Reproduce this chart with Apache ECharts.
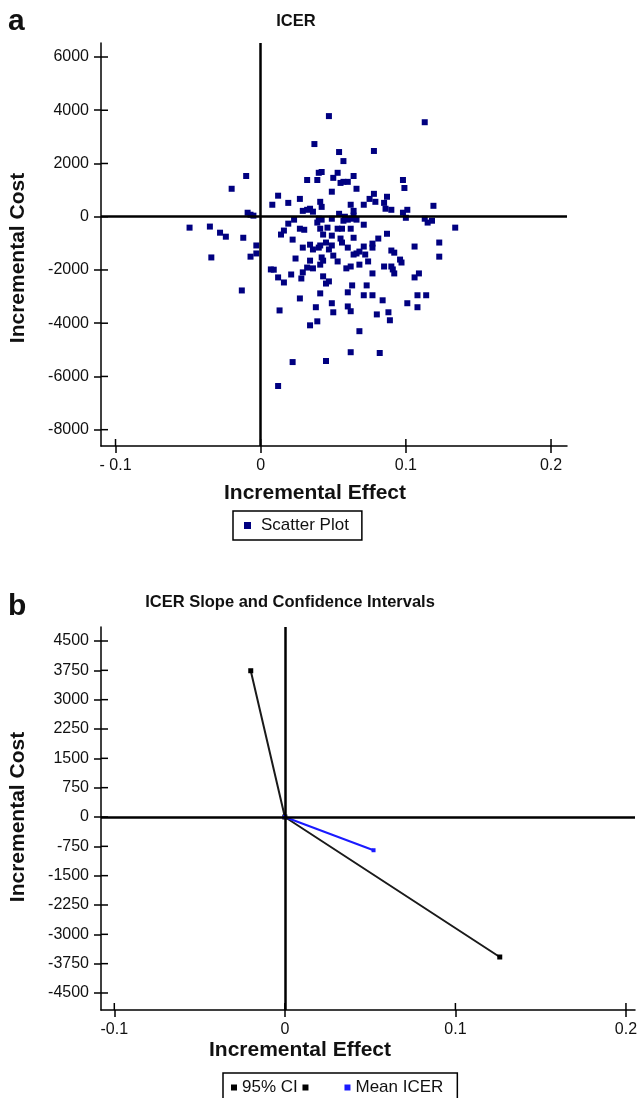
<!DOCTYPE html>
<html>
<head>
<meta charset="utf-8">
<title>ICER</title>
<script src="https://cdn.jsdelivr.net/npm/echarts@6/dist/echarts.min.js"></script>
<style>
  html, body { margin: 0; padding: 0; background: #fff; }
  #chart { width: 640px; height: 1098px; }
</style>
</head>
<body>
<div id="chart"></div>
<script>
// panel a: bootstrap replicates [incremental effect, incremental cost]
const bootstrapPoints = [
  [-0.010, 1530], [-0.020, 1050], [-0.009, 150], [-0.007, 75], [-0.005, 40],
  [-0.049, -410], [-0.035, -370], [-0.028, -600], [-0.024, -750], [-0.012, -790],
  [-0.003, -1080], [-0.034, -1530], [-0.007, -1500], [-0.003, -1380], [-0.013, -2770],
  [0.047, 3780], [0.037, 2730], [0.054, 2430], [0.057, 2090], [0.040, 1650],
  [0.042, 1680], [0.053, 1650], [0.032, 1380], [0.039, 1380], [0.050, 1460],
  [0.055, 1270], [0.057, 1310], [0.060, 1310], [0.064, 1530], [0.066, 1050],
  [0.049, 940], [0.012, 790], [0.027, 670], [0.019, 520], [0.008, 450],
  [0.041, 560], [0.042, 370], [0.029, 220], [0.032, 260], [0.034, 300],
  [0.036, 190], [0.062, 450], [0.071, 450], [0.075, 670], [0.054, 110],
  [0.064, 220], [0.058, 0], [0.064, 40], [0.023, -110], [0.040, -75],
  [0.042, -110], [0.039, -220], [0.049, -75], [0.057, -150], [0.060, -110],
  [0.063, -75], [0.066, -110], [0.019, -260], [0.071, -300], [0.016, -520],
  [0.014, -670], [0.027, -450], [0.030, -490], [0.041, -450], [0.046, -410],
  [0.053, -450], [0.056, -450], [0.062, -450], [0.043, -670], [0.049, -710],
  [0.022, -860], [0.055, -820], [0.064, -790], [0.029, -1160], [0.034, -1050],
  [0.036, -1230], [0.040, -1160], [0.041, -1080], [0.045, -970], [0.047, -1230],
  [0.049, -1080], [0.056, -970], [0.060, -1160], [0.066, -1380], [0.068, -1310],
  [0.064, -1420], [0.071, -1120], [0.072, -1420], [0.024, -1570], [0.034, -1650],
  [0.042, -1530], [0.043, -1650], [0.050, -1460], [0.053, -1680], [0.007, -1980],
  [0.009, -1990], [0.032, -1910], [0.036, -1940], [0.041, -1800], [0.059, -1940],
  [0.062, -1870], [0.068, -1800], [0.074, -1680], [0.012, -2280], [0.016, -2470],
  [0.021, -2170], [0.029, -2090], [0.028, -2320], [0.043, -2240], [0.045, -2510],
  [0.047, -2430], [0.063, -2580], [0.073, -2580], [0.041, -2880], [0.060, -2840],
  [0.071, -2950], [0.027, -3070], [0.038, -3400], [0.049, -3250], [0.050, -3590],
  [0.060, -3370], [0.062, -3550], [0.013, -3520], [0.034, -4080], [0.039, -3930],
  [0.068, -4300], [0.062, -5090], [0.022, -5460], [0.045, -5420], [0.012, -6360],
  [0.113, 3550], [0.078, 2470], [0.098, 1380], [0.099, 1080], [0.078, 860],
  [0.079, 560], [0.087, 750], [0.085, 520], [0.086, 300], [0.090, 260],
  [0.098, 150], [0.101, 260], [0.100, -40], [0.119, 410], [0.113, -75],
  [0.115, -220], [0.118, -150], [0.134, -410], [0.087, -640], [0.081, -820],
  [0.077, -1010], [0.077, -1160], [0.106, -1120], [0.123, -970], [0.123, -1500],
  [0.090, -1270], [0.092, -1350], [0.096, -1610], [0.097, -1720], [0.085, -1870],
  [0.090, -1870], [0.091, -1980], [0.092, -2130], [0.077, -2130], [0.109, -2130],
  [0.106, -2280], [0.077, -2950], [0.084, -3140], [0.108, -2950], [0.114, -2950],
  [0.101, -3250], [0.108, -3400], [0.080, -3670], [0.088, -3590], [0.089, -3890],
  [0.082, -5120]
];

// panel b: confidence interval rays and mean ICER
const ciEffect = [-0.020, 0, 0.126];
const ciCost = [3740, 0, -3580];
const meanEffect = [0, 0.052];
const meanCost = [0, -850];

// tick labels
const xTicksA = [-0.1, 0, 0.1, 0.2];
const xTickLabelsA = ['- 0.1', '0', '0.1', '0.2'];
const yTicksA = [6000, 4000, 2000, 0, -2000, -4000, -6000, -8000];
const xTicksB = [-0.1, 0, 0.1, 0.2];
const xTickLabelsB = ['-0.1', '0', '0.1', '0.2'];
const yTicksB = [4500, 3750, 3000, 2250, 1500, 750, 0, -750, -1500, -2250, -3000, -3750, -4500];

const FONT = '"Liberation Sans", Arial, sans-serif';
const TICK = 7;

const rangeA = { xMin: -0.110, xMax: 0.211, yMin: -8613, yMax: 6526 };
const rangeB = { xMin: -0.1078, xMax: 0.2053, yMin: -4935, yMax: 4858 };

const chart = echarts.init(document.getElementById('chart'));

const zip = (xs, ys) => xs.map((x, i) => [x, ys[i]]);

const xAxis = (gridIndex, range, ticks, labels) => ({
  type: 'value', gridIndex, min: range.xMin, max: range.xMax, position: 'bottom',
  splitLine: { show: false },
  axisLine: { show: true, onZero: false, lineStyle: { color: '#000', width: 1.5 } },
  axisTick: { show: true, length: TICK, customValues: ticks, lineStyle: { color: '#000', width: 1.5 } },
  axisLabel: {
    customValues: ticks, margin: 12, fontSize: 16, color: '#111', fontFamily: FONT,
    formatter: v => labels[ticks.findIndex(t => Math.abs(t - v) < 1e-9)]
  }
});

const yAxis = (gridIndex, range, ticks) => ({
  type: 'value', gridIndex, min: range.yMin, max: range.yMax, position: 'left',
  splitLine: { show: false },
  axisLine: { show: true, onZero: false, lineStyle: { color: '#000', width: 1.5 } },
  axisTick: { show: true, length: TICK, customValues: ticks, lineStyle: { color: '#000', width: 1.5 } },
  axisLabel: {
    customValues: ticks, margin: 12, fontSize: 16, color: '#111', fontFamily: FONT,
    formatter: v => String(Math.round(v))
  }
});

// inner half of the "+" shaped ticks, placed through the axes' own scales
const innerTicks = (axisIndex, range, xTicks, yTicks) => ({
  type: 'custom',
  xAxisIndex: axisIndex, yAxisIndex: axisIndex,
  silent: true, clip: false, z: 3,
  data: xTicks.map(v => [v, range.yMin, 0]).concat(yTicks.map(v => [range.xMin, v, 1])),
  renderItem: (params, api) => {
    const p = api.coord([api.value(0), api.value(1)]);
    const vertical = api.value(2) === 0;
    return {
      type: 'line',
      shape: vertical
        ? { x1: p[0], y1: p[1], x2: p[0], y2: p[1] - TICK }
        : { x1: p[0], y1: p[1], x2: p[0] + TICK, y2: p[1] },
      style: { stroke: '#000', lineWidth: 1.5 }
    };
  }
});

const zeroLines = {
  silent: true,
  symbol: ['none', 'none'],
  label: { show: false },
  lineStyle: { color: '#000', width: 2.5, type: 'solid' },
  emphasis: { disabled: true },
  animation: false,
  data: [{ xAxis: 0 }, { yAxis: 0 }]
};

const text = (x, y, str, size, extra) => Object.assign({
  type: 'text', x, y,
  style: {
    text: str, fontSize: size, fontWeight: 'bold',
    fontFamily: FONT, fill: '#111', align: 'center', verticalAlign: 'middle'
  }
}, extra || {});

const panelLetter = (y, str) => ({
  type: 'text', x: 8, y,
  style: { text: str, fontSize: 30, fontWeight: 'bold', fontFamily: FONT, fill: '#111', align: 'left', verticalAlign: 'middle' }
});

const option = {
  animation: false,
  backgroundColor: '#fff',
  grid: [
    { left: 101, top: 43, width: 466, height: 403, outerBoundsMode: 'none' },
    { left: 101, top: 627, width: 534, height: 383, outerBoundsMode: 'none' }
  ],
  xAxis: [
    xAxis(0, rangeA, xTicksA, xTickLabelsA),
    xAxis(1, rangeB, xTicksB, xTickLabelsB)
  ],
  yAxis: [
    yAxis(0, rangeA, yTicksA),
    yAxis(1, rangeB, yTicksB)
  ],
  legend: [
    {
      data: ['Scatter Plot'],
      left: 233, top: 511,
      padding: [6, 13, 6, 11],
      borderColor: '#000', borderWidth: 1.5,
      icon: 'rect', itemWidth: 7, itemHeight: 7,
      textStyle: { fontSize: 17, color: '#111', fontFamily: FONT, padding: [0, 0, 0, 5] }
    },
    {
      data: ['95% CI', 'Mean ICER'],
      left: 223, top: 1073,
      padding: [6, 14, 12, 8],
      borderColor: '#000', borderWidth: 1.5,
      icon: 'rect', itemWidth: 6, itemHeight: 6, itemGap: 36,
      textStyle: {
        fontSize: 17, color: '#111', fontFamily: FONT,
        rich: { sq: { width: 6, height: 6, backgroundColor: '#000' } }
      },
      formatter: name => name === '95% CI' ? '95% CI {sq| }' : name
    }
  ],
  series: [
    {
      name: 'Scatter Plot',
      type: 'scatter',
      xAxisIndex: 0, yAxisIndex: 0,
      symbol: 'rect', symbolSize: 6,
      itemStyle: { color: '#000080', opacity: 1 },
      data: bootstrapPoints,
      markLine: zeroLines
    },
    innerTicks(0, rangeA, xTicksA, yTicksA),
    {
      name: '95% CI',
      type: 'line',
      xAxisIndex: 1, yAxisIndex: 1,
      symbol: 'rect', symbolSize: 5, showSymbol: true,
      itemStyle: { color: '#000' },
      lineStyle: { color: '#1a1a1a', width: 2 },
      data: zip(ciEffect, ciCost),
      markLine: zeroLines
    },
    {
      name: 'Mean ICER',
      type: 'line',
      xAxisIndex: 1, yAxisIndex: 1,
      symbol: 'rect', symbolSize: 4, showSymbol: true,
      itemStyle: { color: '#1a1aff' },
      lineStyle: { color: '#1a1aff', width: 2 },
      data: zip(meanEffect, meanCost)
    },
    innerTicks(1, rangeB, xTicksB, yTicksB)
  ],
  graphic: [
    panelLetter(22, 'a'),
    text(296, 21, 'ICER', 16.5),
    text(18, 258, 'Incremental Cost', 21, { rotation: Math.PI / 2 }),
    text(315, 493, 'Incremental Effect', 21),
    panelLetter(607, 'b'),
    text(290, 602, 'ICER Slope and Confidence Intervals', 16.5),
    text(18, 817, 'Incremental Cost', 21, { rotation: Math.PI / 2 }),
    text(300, 1050, 'Incremental Effect', 21)
  ]
};

chart.setOption(option);
window.addEventListener('resize', () => chart.resize());
</script>
</body>
</html>
